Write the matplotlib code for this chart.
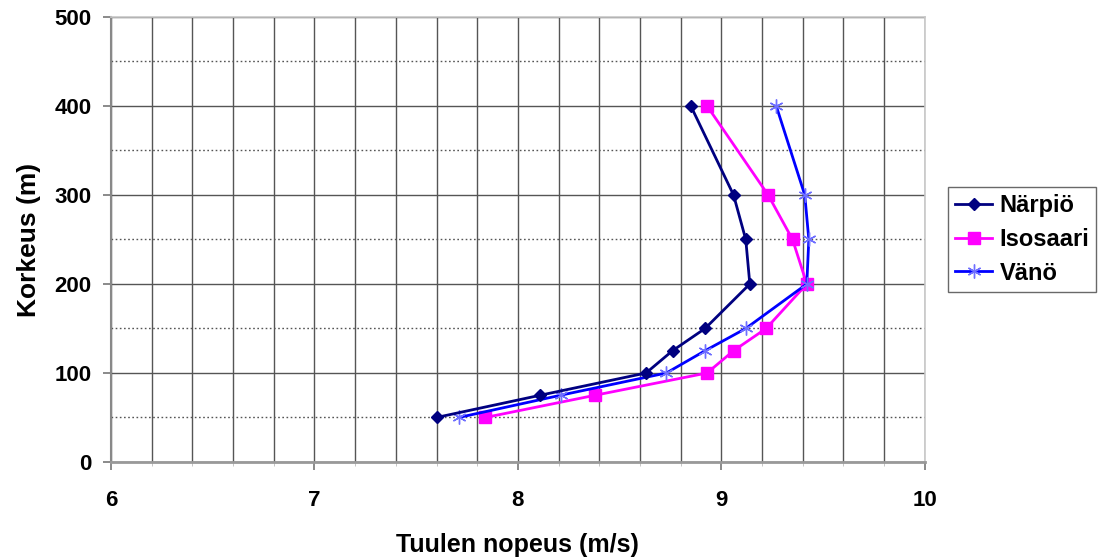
import matplotlib
matplotlib.use("Agg")
import matplotlib.pyplot as plt
from matplotlib.ticker import MultipleLocator

plt.rcParams['font.family'] = ['Liberation Sans', 'DejaVu Sans']

heights = [50, 75, 100, 125, 150, 200, 250, 300, 400]
narpio = [7.60, 8.11, 8.63, 8.76, 8.92, 9.14, 9.12, 9.06, 8.85]
isosaari = [7.84, 8.38, 8.93, 9.06, 9.22, 9.42, 9.35, 9.23, 8.93]
vano = [7.71, 8.21, 8.73, 8.92, 9.12, 9.42, 9.43, 9.41, 9.27]
series_names = ["Närpiö", "Isosaari", "Vänö"]

fig = plt.figure(figsize=(11.02, 5.57), dpi=100)
ax = fig.add_axes([0.1007, 0.1706, 0.7385, 0.7989])

ax.set_xlim(6, 10)
ax.set_ylim(0, 500)

# grid
ax.xaxis.set_major_locator(MultipleLocator(1))
ax.xaxis.set_minor_locator(MultipleLocator(0.2))
ax.yaxis.set_major_locator(MultipleLocator(100))
ax.yaxis.set_minor_locator(MultipleLocator(50))
ax.grid(True, which='minor', axis='x', color='#555555', linewidth=1.0)
ax.grid(True, which='major', axis='x', color='#555555', linewidth=1.0)
ax.grid(True, which='major', axis='y', color='#555555', linewidth=1.0)
ax.grid(True, which='minor', axis='y', color='#555555', linewidth=1.0, linestyle=(0, (1.2, 1.8)))
ax.set_axisbelow(True)

ax.plot(narpio, heights, color='#000080', marker='D', markersize=6, linewidth=2.0,
        label=series_names[0], zorder=4)
ax.plot(isosaari, heights, color='#FF00FF', marker='s', markersize=9, linewidth=2.0,
        label=series_names[1], zorder=3)
ax.plot(vano, heights, color='#0000FF', marker=(6, 2, 0), markersize=10, linewidth=2.0,
        markeredgecolor='#6F6FFF', markeredgewidth=1.0, label=series_names[2], zorder=3)

for s in ['top', 'right']:
    ax.spines[s].set_color('#C8C8C8')
    ax.spines[s].set_linewidth(1.2)
ax.spines['left'].set_color('#888888')
ax.spines['left'].set_linewidth(1.5)
ax.spines['bottom'].set_color('#999999')
ax.spines['bottom'].set_linewidth(2.0)

ax.tick_params(axis='both', which='major', direction='out', length=6, color='#777777',
               width=1.2, labelsize=16)
ax.tick_params(axis='x', which='minor', direction='out', length=3, color='#BBBBBB')
ax.tick_params(axis='y', which='minor', length=0)
ax.tick_params(axis='x', which='major', pad=14)
ax.tick_params(axis='y', which='major', pad=8)
for lab in ax.get_xticklabels() + ax.get_yticklabels():
    lab.set_fontweight('bold')

ax.set_xlabel("Tuulen nopeus (m/s)", fontsize=18, fontweight='bold', labelpad=16)
ax.set_ylabel("Korkeus (m)", fontsize=19, fontweight='bold', labelpad=10)

leg = ax.legend(loc='center left', bbox_to_anchor=(1.028, 0.50),
                prop={'weight': 'bold', 'size': 17}, frameon=True, fancybox=False,
                edgecolor='#444444', handlelength=1.6, handletextpad=0.3,
                borderpad=0.3, labelspacing=0.45, borderaxespad=0)
leg.get_frame().set_linewidth(1.0)

fig.savefig("out.png", dpi=100)
